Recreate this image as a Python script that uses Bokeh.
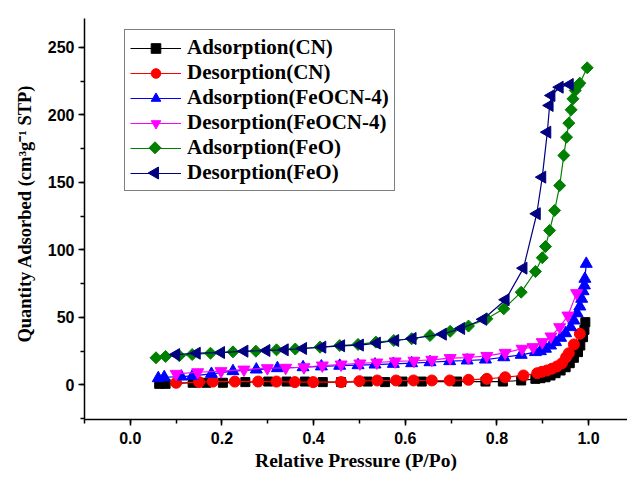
import math
from bokeh.plotting import figure
from bokeh.models import (Legend, LegendItem, SingleIntervalTicker, PrintfTickFormatter,
                          Title, Range1d)
from bokeh.embed import file_html
from bokeh.resources import INLINE

# ---------------- data ----------------
cn_ads_x = [0.063, 0.077, 0.136, 0.166, 0.202, 0.251, 0.301, 0.341, 0.381, 0.42, 0.46,
            0.518, 0.556, 0.594, 0.636, 0.713, 0.775, 0.813, 0.853, 0.884, 0.895,
            0.906, 0.917, 0.928, 0.939, 0.950, 0.959, 0.968, 0.977, 0.982, 0.988,
            0.991, 0.993]
cn_ads_y = [0.7, 0.7, 1.5, 1.5, 1.5, 2.0, 2.4, 2.4, 2.4, 2.0, 2.0,
            2.4, 2.0, 2.4, 2.4, 2.4, 2.4, 2.4, 3.2, 4.4, 4.9,
            5.6, 6.9, 8.6, 10.6, 13.0, 16.0, 20.0, 24.2, 29.1, 35.3,
            40.7, 46.4]

cn_des_x = [0.100, 0.150, 0.180, 0.228, 0.279, 0.319, 0.359, 0.399, 0.460, 0.500,
            0.539, 0.580, 0.618, 0.658, 0.697, 0.738, 0.778, 0.818, 0.858, 0.888,
            0.898, 0.909, 0.920, 0.931, 0.942, 0.951, 0.957, 0.968, 0.981]
cn_des_y = [1.5, 2.0, 2.4, 2.4, 2.4, 2.4, 2.0, 2.0, 2.0, 2.7,
            3.2, 3.2, 3.2, 3.2, 3.2, 3.7, 4.4, 5.6, 6.9, 8.6,
            9.6, 10.6, 11.9, 13.6, 16.0, 20.4, 23.4, 29.9, 37.8]

fe4_ads_x = [0.061, 0.074, 0.111, 0.136, 0.177, 0.224, 0.275, 0.321, 0.377, 0.417,
             0.457, 0.497, 0.534, 0.574, 0.614, 0.654, 0.697, 0.735, 0.775, 0.815,
             0.853, 0.884, 0.895, 0.906, 0.917, 0.928, 0.939, 0.950, 0.961, 0.968,
             0.975, 0.981, 0.985, 0.988, 0.991, 0.992, 0.995]
fe4_ads_y = [4.9, 5.6, 6.1, 6.6, 8.1, 10.1, 11.3, 12.3, 13.0, 13.6,
             14.1, 14.5, 15.0, 15.5, 16.0, 16.7, 17.5, 18.0, 18.7, 20.4,
             22.2, 24.2, 24.9, 26.7, 29.1, 31.6, 34.8, 38.2, 42.7, 47.6,
             53.0, 58.0, 63.7, 69.3, 73.6, 78.5, 89.6]

fe4_des_x = [0.100, 0.147, 0.198, 0.248, 0.299, 0.339, 0.379, 0.419, 0.460, 0.501,
             0.538, 0.578, 0.619, 0.658, 0.698, 0.738, 0.778, 0.818, 0.855, 0.879,
             0.899, 0.918, 0.937, 0.955, 0.974]
fe4_des_y = [8.1, 9.3, 10.1, 11.3, 12.3, 12.6, 13.0, 14.3, 15.0, 15.8,
             16.5, 17.3, 17.8, 18.5, 19.8, 20.2, 21.4, 23.7, 26.7, 27.9,
             31.6, 35.8, 42.7, 51.3, 67.9]

feo_ads_x = [0.056, 0.077, 0.107, 0.135, 0.175, 0.224, 0.274, 0.319, 0.360, 0.414,
             0.457, 0.497, 0.536, 0.575, 0.614, 0.654, 0.698, 0.738, 0.778, 0.815,
             0.853, 0.884, 0.899, 0.906, 0.915, 0.926, 0.937, 0.946, 0.952, 0.957,
             0.962, 0.966, 0.971, 0.977, 0.981, 0.997]
feo_ads_y = [20.0, 21.0, 21.5, 22.4, 23.4, 24.4, 24.9, 25.9, 26.5, 27.9,
             29.1, 29.9, 31.6, 32.8, 34.1, 36.5, 39.6, 43.5, 48.9, 56.3,
             68.6, 83.9, 94.1, 102.4, 114.3, 129.1, 147.6, 169.9, 183.4, 193.8,
             203.7, 211.8, 218.0, 221.7, 223.4, 234.8]

feo_des_x = [0.100, 0.145, 0.198, 0.249, 0.297, 0.337, 0.377, 0.419, 0.460, 0.501,
             0.538, 0.578, 0.616, 0.682, 0.722, 0.770, 0.819, 0.858, 0.887, 0.899,
             0.910, 0.915, 0.919, 0.937, 0.959]
feo_des_y = [22.4, 23.4, 23.9, 24.9, 25.4, 25.9, 26.9, 27.9, 28.9, 29.4,
             30.9, 32.8, 34.3, 37.5, 41.7, 48.5, 63.0, 86.4, 126.7, 153.8,
             187.1, 206.9, 214.3, 220.4, 222.4]

labels = ["Adsorption(CN)", "Desorption(CN)", "Adsorption(FeOCN-4)",
          "Desorption(FeOCN-4)", "Adsorption(FeO)", "Desorption(FeO)"]

x_label = "Relative Pressure (P/Po)"
y_label = "Quantity Adsorbed (cm³g⁻¹ STP)"
x_ticks_interval = 0.2
y_ticks_interval = 50

# ---------------- layout constants ----------------
W, H = 627, 481
B_LEFT, B_TOP, B_BOTTOM = 84, 18, 62
X0, X1 = -0.1, 1.085
Y0, Y1 = -25.7, 271.3

p = figure(width=W, height=H, output_backend="svg", toolbar_location=None,
           x_range=Range1d(X0, X1), y_range=Range1d(Y0, Y1),
           min_border_left=B_LEFT, min_border_right=0, min_border_top=B_TOP,
           min_border_bottom=B_BOTTOM)
p.outline_line_color = None
p.grid.visible = False
p.background_fill_color = "white"
p.border_fill_color = "white"

series = [
    (cn_ads_x, cn_ads_y, "black", "square", 9, 0),
    (cn_des_x, cn_des_y, "#FF0000", "circle", 11, 0),
    (fe4_ads_x, fe4_ads_y, "#0000FF", "triangle", 12, 0),
    (fe4_des_x, fe4_des_y, "#FF00FF", "inverted_triangle", 12, 0),
    (feo_ads_x, feo_ads_y, "#008000", "square", 8.5, math.pi / 4),
    (feo_des_x, feo_des_y, "#000080", "triangle", 12, math.pi / 2),
]

items = []
rotated = []
for i, ((xs, ys, col, mk, sz, ang), lab) in enumerate(zip(series, labels)):
    ln = p.line(xs, ys, line_color=col, line_width=1.2)
    sc = p.scatter(xs, ys, marker=mk, size=sz, angle=ang, fill_color=col, line_color=col)
    # the legend ignores marker rotation, so rotated markers are added separately below
    items.append(LegendItem(label=lab, renderers=[ln] if ang else [ln, sc]))
    if ang:
        rotated.append((i, col, mk, sz, ang))

LEG_X, LEG_Y = 40, 228          # legend bottom-left offset from frame bottom-left (px)
LEG_PAD, LEG_GLYPH_W, LEG_ROW = 5, 51, 24
LEG_LAST_ROW_Y, LEG_ROW_STEP = 172.5, 25.2   # screen y of last row centre, row pitch
legend = Legend(items=items, location=(LEG_X, LEG_Y))
legend.label_text_font = "Liberation Serif"
legend.label_text_font_style = "bold"
legend.label_text_font_size = "21px"
legend.label_text_color = "black"
legend.glyph_width = LEG_GLYPH_W
legend.glyph_height = LEG_ROW
legend.label_height = LEG_ROW
legend.label_width = 186
legend.spacing = 0
legend.padding = LEG_PAD
legend.margin = 0
legend.label_standoff = 6
legend.border_line_color = "black"
legend.border_line_width = 1
legend.background_fill_alpha = 0.0
p.add_layout(legend, "center")

# rotated markers for the legend rows, placed at the legend glyph centres
frame_w = W - B_LEFT
frame_h = H - B_TOP - B_BOTTOM
px_x = (X1 - X0) / frame_w
px_y = (Y1 - Y0) / frame_h
leg_gx = X0 + (LEG_X + LEG_PAD + LEG_GLYPH_W / 2) * px_x
for i, col, mk, sz, ang in rotated:
    sy = LEG_LAST_ROW_Y - (len(series) - 1 - i) * LEG_ROW_STEP
    leg_gy = Y1 - (sy - B_TOP) * px_y
    p.scatter([leg_gx], [leg_gy], marker=mk, size=sz, angle=ang,
              fill_color=col, line_color=col, level="overlay")

# axes
for ax in (p.xaxis[0], p.yaxis[0]):
    ax.axis_line_width = 1.5
    ax.axis_line_color = "black"
    ax.major_tick_line_width = 1.5
    ax.minor_tick_line_width = 1.5
    ax.major_tick_in = 0
    ax.major_tick_out = 6
    ax.minor_tick_in = 0
    ax.minor_tick_out = 4
    ax.major_label_text_font = "Liberation Sans"
    ax.major_label_text_font_style = "bold"
    ax.major_label_text_font_size = "16px"
    ax.major_label_text_color = "black"
    ax.axis_label_text_font = "Liberation Serif"
    ax.axis_label_text_font_style = "bold"
    ax.axis_label_text_font_size = "19.5px"
    ax.axis_label_text_color = "black"

p.xaxis[0].ticker = SingleIntervalTicker(interval=x_ticks_interval, num_minor_ticks=2)
p.xaxis[0].formatter = PrintfTickFormatter(format="%.1f")
p.xaxis[0].major_label_standoff = 6
p.xaxis[0].axis_label = x_label
p.xaxis[0].axis_label_standoff = 3

p.yaxis[0].ticker = SingleIntervalTicker(interval=y_ticks_interval, num_minor_ticks=2)
p.yaxis[0].major_label_standoff = 4

ytitle = Title(text=y_label, align="right", offset=66, vertical_align="middle",
               text_font="Liberation Serif", text_font_style="bold",
               text_font_size="18.5px", text_color="black", standoff=18)
p.add_layout(ytitle, "left")

open("out.html", "w").write(file_html(p, INLINE))
